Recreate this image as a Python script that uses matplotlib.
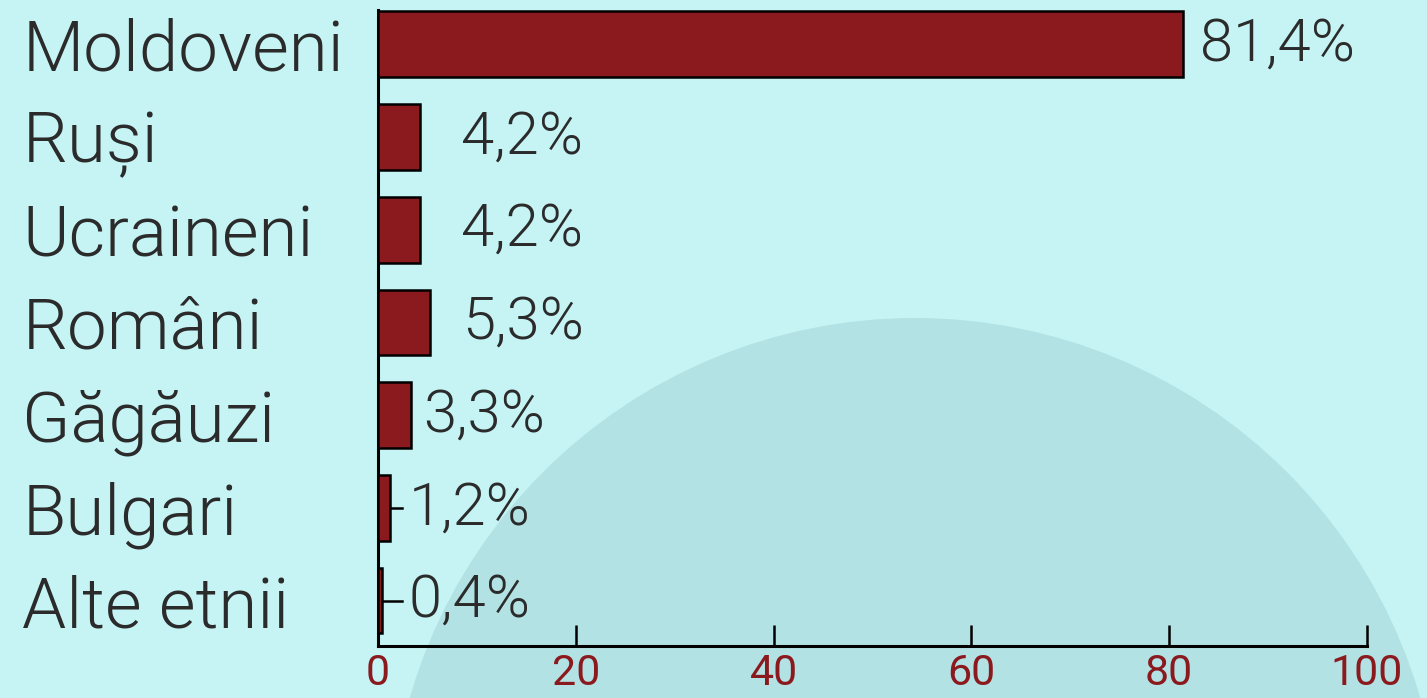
import matplotlib.pyplot as plt
from matplotlib.patches import Ellipse

categories = ['Moldoveni', 'Ruși', 'Ucraineni', 'Români', 'Găgăuzi', 'Bulgari', 'Alte etnii']
values = [81.4, 4.2, 4.2, 5.3, 3.3, 1.2, 0.4]
value_labels = ['81,4%', '4,2%', '4,2%', '5,3%', '3,3%', '1,2%', '0,4%']
xticks = [0, 20, 40, 60, 80, 100]

# gap between bar end and label text (points); leader line for tiny bars
label_gap = [12, 30, 30, 23, 9, 15, 20]
leader = [False, False, False, False, False, True, True]

bg = '#c6f4f5'
circle_col = '#b3e2e4'
bar_col = '#8b1a1e'
text_col = '#2b2b2b'

plt.rcParams['font.family'] = ['Roboto', 'DejaVu Sans']

W, H = 1427, 698
fig = plt.figure(figsize=(W / 100, H / 100), dpi=100, facecolor=bg)

# big pale circle in the background
r = 526
fig.patches.append(Ellipse((915 / W, 1 - 844 / H), 2 * r / W, 2 * r / H,
                           transform=fig.transFigure, facecolor=circle_col,
                           edgecolor='none', zorder=0))

ax = fig.add_axes([378 / W, 52 / H, (1367 - 378) / W, (688 - 52) / H])
ax.set_zorder(2)
ax.set_facecolor('none')

y = list(range(len(categories)))
ax.barh(y, values, height=0.71, color=bar_col, edgecolor='black', linewidth=1.8, zorder=3)

for i, (v, lab) in enumerate(zip(values, value_labels)):
    if leader[i]:
        ax.plot([v, 2.4], [i, i], color='black', lw=1.8, zorder=3)
        ax.annotate(lab, (2.4, i), xytext=(5, 0), textcoords='offset points',
                    va='center', ha='left', fontsize=43, color=text_col,
                    fontweight=300)
    else:
        ax.annotate(lab, (v, i), xytext=(label_gap[i], 0), textcoords='offset points',
                    va='center', ha='left', fontsize=43, color=text_col,
                    fontweight=300)

ax.set_ylim(6.49, -0.37)
ax.set_xlim(0, 100)
ax.set_yticks(y)
ax.set_yticklabels(categories, fontsize=51, color=text_col, fontweight=300, ha='left')
ax.tick_params(axis='y', length=0, pad=256)
ax.set_xticks(xticks)
ax.set_xticklabels([str(t) for t in xticks], fontsize=31, color=bar_col)
ax.tick_params(axis='x', direction='in', length=15, width=1.8, color='black', pad=5)

ax.spines['right'].set_color('none')
ax.spines['top'].set_color('none')
ax.spines['left'].set_linewidth(2.2)
ax.spines['bottom'].set_linewidth(2.2)

fig.savefig('out.png', dpi=100, facecolor=bg)
